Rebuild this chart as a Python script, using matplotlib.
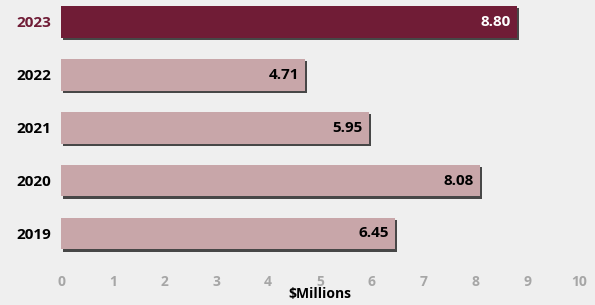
import matplotlib
matplotlib.use('Agg')
import matplotlib.pyplot as plt
import matplotlib.patheffects as pe

years = ['2019', '2020', '2021', '2022', '2023']
values = [6.45, 8.08, 5.95, 4.71, 8.80]
xticks = [0, 1, 2, 3, 4, 5, 6, 7, 8, 9, 10]

dark = '#701c36'
light = '#c8a6a9'
bg = '#efefef'

plt.rcParams['font.family'] = ['Open Sans', 'DejaVu Sans']

fig = plt.figure(figsize=(5.95, 3.05), dpi=100, facecolor=bg)
ax = fig.add_axes([61 / 595, 43 / 305, 518 / 595, 262 / 305])
ax.set_facecolor(bg)

colors = [light] * (len(years) - 1) + [dark]
shadow = [pe.SimplePatchShadow(offset=(1.6, -1.6), shadow_rgbFace='#2a2a2a', alpha=0.85), pe.Normal()]
bars = ax.barh(range(len(years)), values, height=0.6, color=colors, path_effects=shadow)

for i, (b, v) in enumerate(zip(bars, values)):
    tc = 'white' if i == len(years) - 1 else 'black'
    ax.text(v - 0.12, i, '{:.2f}'.format(v), ha='right', va='center',
            fontsize=11, fontweight='bold', color=tc)

ax.set_xlim(0, 10)
ax.set_ylim(-0.539, 4.416)
ax.set_xticks(xticks)
ax.set_xticklabels([str(t) for t in xticks], fontsize=10, fontweight='bold', color='#a6a6a6')
ax.set_yticks(range(len(years)))
ax.set_yticklabels(years, fontsize=11, fontweight='bold')
ax.get_yticklabels()[-1].set_color(dark)
ax.tick_params(axis='x', length=0, pad=9)
ax.tick_params(axis='y', length=0, pad=7)
for s in ax.spines.values():
    s.set_visible(False)
ax.set_xlabel('$Millions', fontsize=10, fontweight='bold', labelpad=-1)

fig.savefig('out.png', dpi=100, facecolor=bg)
